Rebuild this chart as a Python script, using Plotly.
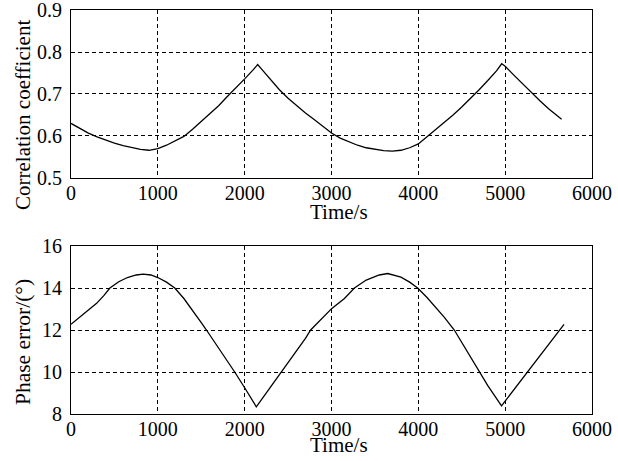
import plotly.graph_objects as go

# Correlation coefficient vs time
time_corr = [0, 100, 200, 300, 400, 500, 600, 700, 800, 900, 1000, 1100, 1200, 1300, 1400,
             1500, 1600, 1700, 1800, 1900, 2000, 2100, 2150, 2200, 2300, 2400, 2500, 2600,
             2700, 2800, 2900, 3000, 3100, 3200, 3300, 3400, 3500, 3600, 3700, 3800, 3900,
             4000, 4100, 4200, 4300, 4400, 4500, 4600, 4700, 4800, 4900, 4960, 5000, 5100,
             5200, 5300, 5400, 5500, 5650]
corr = [0.630, 0.618, 0.607, 0.598, 0.590, 0.583, 0.577, 0.572, 0.568, 0.566, 0.570, 0.578,
        0.588, 0.599, 0.616, 0.634, 0.652, 0.672, 0.694, 0.714, 0.736, 0.758, 0.770, 0.758,
        0.735, 0.710, 0.690, 0.672, 0.655, 0.639, 0.624, 0.607, 0.595, 0.586, 0.578, 0.572,
        0.568, 0.565, 0.564, 0.566, 0.572, 0.581, 0.598, 0.615, 0.632, 0.650, 0.669, 0.689,
        0.710, 0.732, 0.755, 0.772, 0.766, 0.745, 0.724, 0.703, 0.684, 0.665, 0.640]

# Phase error vs time
time_phase = [0, 150, 295, 380, 448, 550, 650, 750, 831, 920, 1000, 1100, 1195, 1300, 1400,
              1500, 1560, 1700, 1800, 1885, 2000, 2134, 2200, 2300, 2422, 2500, 2600, 2700,
              2760, 2862, 3004, 3149, 3264, 3400, 3550, 3647, 3800, 3900, 3992, 4100, 4200,
              4300, 4414, 4500, 4600, 4701, 4800, 4958, 5100, 5261, 5400, 5500, 5678]
phase = [12.27, 12.80, 13.27, 13.65, 14.00, 14.30, 14.50, 14.62, 14.66, 14.62, 14.50, 14.28,
         14.00, 13.50, 12.95, 12.35, 12.00, 11.15, 10.50, 10.00, 9.25, 8.34, 8.72, 9.30,
         10.00, 10.45, 11.00, 11.60, 12.00, 12.45, 13.03, 13.50, 14.00, 14.38, 14.62, 14.69,
         14.52, 14.28, 14.00, 13.55, 13.10, 12.60, 12.00, 11.40, 10.72, 10.00, 9.35, 8.39,
         9.15, 10.02, 10.77, 11.31, 12.27]

x_ticks = [0, 1000, 2000, 3000, 4000, 5000, 6000]
corr_ticks = [0.5, 0.6, 0.7, 0.8, 0.9]
phase_ticks = [8, 10, 12, 14, 16]

FONT = "Times New Roman, Liberation Serif, DejaVu Serif, serif"

fig = go.Figure()
fig.add_trace(go.Scatter(x=time_corr, y=corr, mode="lines",
                         line=dict(color="black", width=1.3), xaxis="x", yaxis="y",
                         showlegend=False, hoverinfo="skip"))
fig.add_trace(go.Scatter(x=time_phase, y=phase, mode="lines",
                         line=dict(color="black", width=1.3), xaxis="x2", yaxis="y2",
                         showlegend=False, hoverinfo="skip"))

axis_common = dict(showline=True, linecolor="black", linewidth=1, mirror=True,
                   showgrid=True, gridcolor="black", gridwidth=1, griddash="4px,3px",
                   zeroline=False, ticks="", automargin=False, ticklabeloverflow="allow",
                   tickfont=dict(family=FONT, size=20, color="black"))

fig.update_layout(
    width=618, height=461,
    margin=dict(l=71, r=26, t=10, b=47),
    paper_bgcolor="white", plot_bgcolor="white",
    font=dict(family=FONT, color="black"),
    xaxis=dict(domain=[0, 1], anchor="y", range=[0, 6000], tickvals=x_ticks,
               ticktext=[str(v) for v in x_ticks], ticklabelstandoff=-3, **axis_common),
    yaxis=dict(domain=[0.5842, 1.0], anchor="x", range=[0.5, 0.9], tickvals=corr_ticks,
               ticktext=[f"{v:.1f}" for v in corr_ticks], ticklabelstandoff=4, **axis_common),
    xaxis2=dict(domain=[0, 1], anchor="y2", range=[0, 6000], tickvals=x_ticks,
                ticktext=[str(v) for v in x_ticks], ticklabelstandoff=-3, **axis_common),
    yaxis2=dict(domain=[0.0, 0.4158], anchor="x2", range=[8, 16], tickvals=phase_ticks,
                ticktext=[str(v) for v in phase_ticks], ticklabelstandoff=4, **axis_common),
    annotations=[
        dict(text="Time/s", xref="paper", yref="paper", x=0.5, xshift=7, y=0.5842, yshift=-34,
             xanchor="center", yanchor="middle", showarrow=False,
             font=dict(family=FONT, size=21, color="black")),
        dict(text="Time/s", xref="paper", yref="paper", x=0.5, xshift=7, y=0.0, yshift=-31,
             xanchor="center", yanchor="middle", showarrow=False,
             font=dict(family=FONT, size=21, color="black")),
        dict(text="Correlation coefficient", xref="paper", yref="paper", x=0, xshift=-48,
             y=0.745, yshift=-2, xanchor="center", yanchor="middle", textangle=-90,
             showarrow=False, font=dict(family=FONT, size=21, color="black")),
        dict(text="Phase error/(°)", xref="paper", yref="paper", x=0, xshift=-48,
             y=0.183, yshift=-2, xanchor="center", yanchor="middle", textangle=-90,
             showarrow=False, font=dict(family=FONT, size=21.5, color="black")),
    ],
)

fig.write_html("out.html", post_script="document.body.style.margin='0';",
               config={"displayModeBar": False})
